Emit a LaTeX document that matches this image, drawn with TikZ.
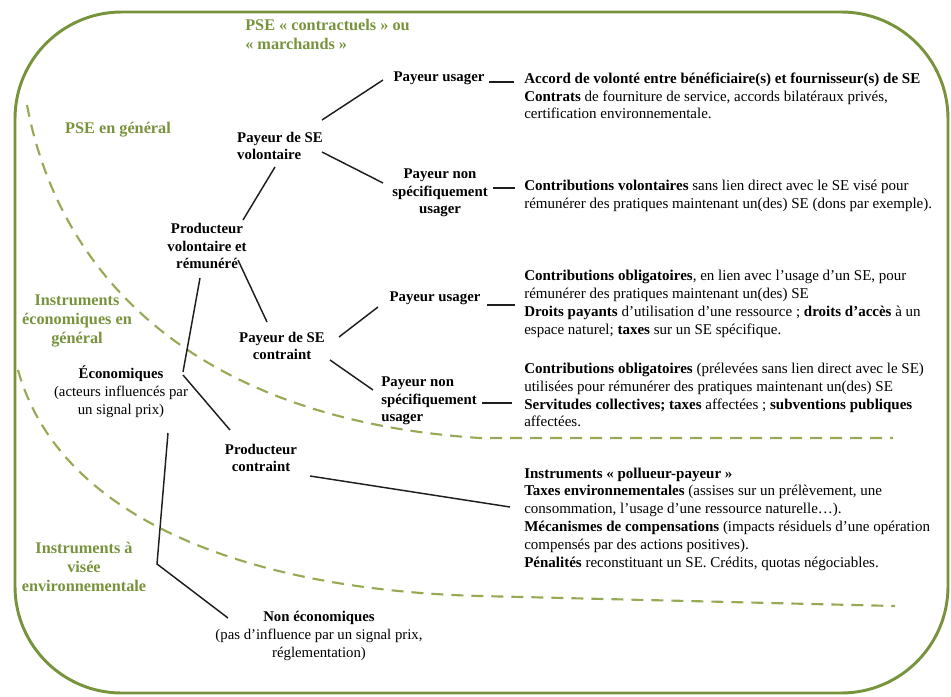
\documentclass[tikz,border=0pt]{standalone}
\usepackage{fontspec}
\setmainfont{Liberation Serif}
\usetikzlibrary{calc,positioning}
\definecolor{psegreen}{RGB}{119,147,60}
\definecolor{zonegreen}{RGB}{150,170,86}
\definecolor{linkgray}{RGB}{30,30,30}

\begin{document}
\begin{tikzpicture}[x=0.75pt,y=-0.75pt,
    link/.style={line width=1.1pt, linkgray},
    item/.style={font=\bfseries\fontsize{11.1}{13.3}\selectfont, align=center, inner sep=1pt},
    plain item/.style={font=\fontsize{11.1}{13.6}\selectfont, align=center, inner sep=1pt},
    desc/.style={font=\fontsize{11.25}{13.35}\selectfont, align=left, anchor=west, inner sep=0pt},
    zone label/.style={text=psegreen, font=\bfseries\fontsize{12.2}{14}\selectfont, align=center, inner sep=0pt},
    zone border/.style={zonegreen, line width=1.6pt, dash pattern=on 9pt off 6pt}
]
\useasboundingbox (0,0) rectangle (951,697);

% Frame
\draw[psegreen, line width=2.2pt, rounded corners=80pt] (15,12) rectangle (948,693);

% Zone borders
\draw[zone border] (27,105) .. controls (60,280) and (200,420) .. (480,438) -- (893,438);
\draw[zone border] (18,370) .. controls (60,520) and (250,590) .. (480,596) -- (895,606);

% Zone labels
\node[zone label, align=left, anchor=north west] (lcontrat) at (245,19) {PSE « contractuels » ou\\« marchands »};
\node[zone label] (lgeneral) at (118,130) {PSE en général};
\node[zone label] (leco) at (77,321) {Instruments\\économiques en\\général};
\node[zone label] (lenv) at (84,567) {Instruments à\\visée\\environnementale};

% === Tree ===
\node[item] (pvr) at (207,246) {Producteur\\volontaire et\\rémunéré};
\node[item, align=left] (vol) at (280,146) {Payeur de SE\\volontaire};
\node[item] (pu1) at (439,78) {Payeur usager};
\node[item] (pn1) at (440,193) {Payeur non\\spécifiquement\\usager};
\node[item] (con) at (282,346) {Payeur de SE\\contraint};
\node[item] (pu2) at (435,298) {Payeur usager};
\node[item, align=left] (pn2) at (429,401) {Payeur non\\spécifiquement\\usager};
\node[plain item] (eco) at (121,392) {\textbf{Économiques}\\(acteurs influencés par\\un signal prix)};
\node[item] (pc) at (261,458) {Producteur\\contraint};
\node[plain item] (neco) at (319,636) {\textbf{Non économiques}\\(pas d’influence par un signal prix,\\réglementation)};

% === Descriptions ===
\node[desc] (t1) at (524,96) {\textbf{Accord de volonté entre bénéficiaire(s) et fournisseur(s) de SE}\\
  \textbf{Contrats} de fourniture de service, accords bilatéraux privés,\\
  certification environnementale.};
\node[desc] (t2) at (524,196) {\textbf{Contributions volontaires} sans lien direct avec le SE visé pour\\
  rémunérer des pratiques maintenant un(des) SE (dons par exemple).};
\node[desc] (t3) at (524,304) {\textbf{Contributions obligatoires}, en lien avec l’usage d’un SE, pour\\
  rémunérer des pratiques maintenant un(des) SE\\
  \textbf{Droits payants} d’utilisation d’une ressource ; \textbf{droits d’accès} à un\\
  espace naturel; \textbf{taxes} sur un SE spécifique.};
\node[desc] (t4) at (524,395) {\textbf{Contributions obligatoires} (prélevées sans lien direct avec le SE)\\
  utilisées pour rémunérer des pratiques maintenant un(des) SE\\
  \textbf{Servitudes collectives; taxes} affectées ; \textbf{subventions publiques}\\
  affectées.};
\node[desc] (t5) at (524,519) {\textbf{Instruments « pollueur-payeur »}\\
  \textbf{Taxes environnementales} (assises sur un prélèvement, une\\
  consommation, l’usage d’une ressource naturelle…).\\
  \textbf{Mécanismes de compensations} (impacts résiduels d’une opération\\
  compensés par des actions positives).\\
  \textbf{Pénalités} reconstituant un SE. Crédits, quotas négociables.};

% === Links ===
\draw[link] ($(vol)+(42,-26)$) -- ($(pu1)+(-56,2)$);
\draw[link] ($(vol)+(42,6)$) -- ($(pn1)+(-57,-10)$);
\draw[link] ($(pvr)+(36,-26)$) -- ($(vol)+(-5,21)$);
\draw[link] ($(pvr)+(31,14)$) -- ($(con)+(-15,-24)$);
\draw[link] ($(con)+(57,-9)$) -- ($(pu2)+(-57,9)$);
\draw[link] ($(con)+(48,14)$) -- ($(pn2)+(-56,-11)$);
\draw[link] ($(pvr)+(-7,32)$) -- ($(eco)+(62,-20)$);
\draw[link] ($(eco)+(62,-17)$) -- ($(pc)+(-31,-28)$);
\coordinate (bend) at (157,564);
\draw[link] ($(eco)+(47,41)$) -- (bend) -- ($(neco)+(-91,-18)$);
\draw[link] ($(pc)+(49,18)$) -- ($(t5.west)+(-14,-12)$);

% short dashes to the descriptions
\draw[link] ($(pu1.east)+(3,4)$) -- ($(t1.west)+(-10,-14)$);
\draw[link] ($(pn1.east)+(4,-5)$) -- ($(t2.west)+(-9,-8)$);
\draw[link] ($(pu2.east)+(5,7)$) -- ($(t3.west)+(-9,1)$);
\draw[link] ($(pn2.east)+(4,2)$) -- ($(t4.west)+(-12,8)$);

\end{tikzpicture}
\end{document}
